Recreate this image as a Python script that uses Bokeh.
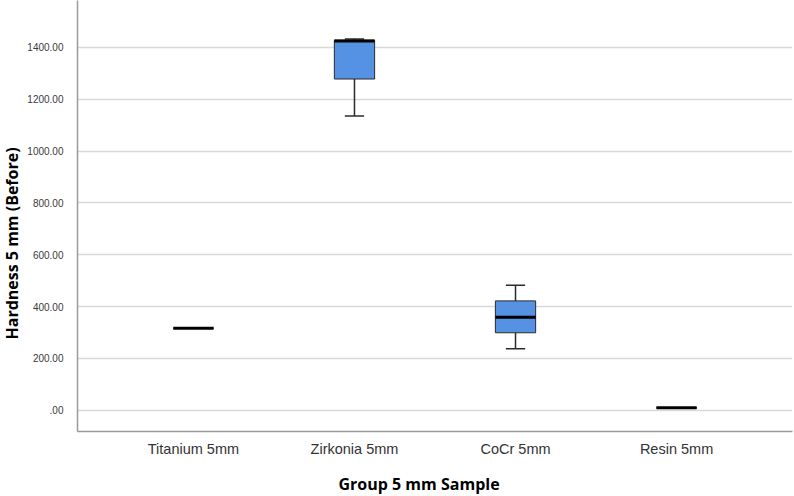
from bokeh.embed import file_html
from bokeh.models import ColumnDataSource, FactorRange, FixedTicker, Range1d, Title
from bokeh.plotting import figure
from bokeh.resources import INLINE
from bokeh.transform import dodge

# Five-number summaries of hardness (before), 5 mm samples
groups = ["Titanium 5mm", "Zirkonia 5mm", "CoCr 5mm", "Resin 5mm"]
lower = [316.5, 1135.0, 237.0, 9.3]
q1 = [316.5, 1278.0, 299.0, 9.3]
median = [316.5, 1425.0, 359.0, 9.3]
q3 = [316.5, 1428.0, 422.0, 9.3]
upper = [316.5, 1432.0, 482.5, 9.3]

y_ticks = [0, 200, 400, 600, 800, 1000, 1200, 1400]
y_tick_labels = [".00", "200.00", "400.00", "600.00", "800.00", "1000.00", "1200.00", "1400.00"]

BOX_FILL = "#5592E4"
BOX_W = 0.25
CAP_W = 0.12

src = ColumnDataSource(dict(groups=groups, lower=lower, q1=q1, median=median, q3=q3, upper=upper))

p = figure(
    width=794, height=496,
    x_range=FactorRange(*groups, range_padding=0.11),
    y_range=Range1d(-82, 1581),
    output_backend="svg", toolbar_location=None,
    min_border_left=77, min_border_right=2, min_border_top=0, min_border_bottom=65,
)
p.outline_line_color = None
p.background_fill_color = "white"
p.border_fill_color = "white"

# grid
p.xgrid.grid_line_color = None
p.ygrid.grid_line_color = "#d9d9d9"
p.ygrid.grid_line_width = 1.5

# y axis
p.yaxis.ticker = FixedTicker(ticks=y_ticks)
p.yaxis.major_label_overrides = {t: s for t, s in zip(y_ticks, y_tick_labels)}
p.yaxis.minor_tick_line_color = None
p.yaxis.major_tick_line_color = None
p.yaxis.major_label_standoff = 8
p.yaxis.major_label_text_font = "Liberation Sans"
p.yaxis.major_label_text_font_size = "10px"
p.yaxis.major_label_text_color = "#3a3a3a"
p.yaxis.axis_line_color = "#9a9a9a"
p.yaxis.axis_line_width = 1.5

# x axis (blank axis label only adds a little room before the title)
p.xaxis.major_tick_line_color = None
p.xaxis.minor_tick_line_color = None
p.xaxis.major_label_standoff = 3
p.xaxis.major_label_text_font = "Liberation Sans"
p.xaxis.major_label_text_font_size = "14.5px"
p.xaxis.major_label_text_color = "#333333"
p.xaxis.axis_line_color = "#9a9a9a"
p.xaxis.axis_line_width = 1.5
p.xaxis.axis_label = " "
p.xaxis.axis_label_text_font_size = "1px"
p.xaxis.axis_label_standoff = 6

# whiskers
p.segment(x0="groups", y0="q3", x1="groups", y1="upper", source=src,
          line_color="#2b2b2b", line_width=1.5)
p.segment(x0="groups", y0="q1", x1="groups", y1="lower", source=src,
          line_color="#2b2b2b", line_width=1.5)
p.segment(x0=dodge("groups", -CAP_W / 2, range=p.x_range), y0="upper",
          x1=dodge("groups", CAP_W / 2, range=p.x_range), y1="upper", source=src,
          line_color="#2b2b2b", line_width=1.5)
p.segment(x0=dodge("groups", -CAP_W / 2, range=p.x_range), y0="lower",
          x1=dodge("groups", CAP_W / 2, range=p.x_range), y1="lower", source=src,
          line_color="#2b2b2b", line_width=1.5)

# boxes
p.vbar(x="groups", width=BOX_W, bottom="q1", top="q3", source=src,
       fill_color=BOX_FILL, line_color="#2b2b2b", line_width=1)

# medians
p.segment(x0=dodge("groups", -BOX_W / 2, range=p.x_range), y0="median",
          x1=dodge("groups", BOX_W / 2, range=p.x_range), y1="median", source=src,
          line_color="black", line_width=3)

# axis titles, placed as panel titles so they can sit off-centre
p.add_layout(Title(text="Hardness 5 mm (Before)", align="left", offset=92,
                   vertical_align="top",
                   text_font="Open Sans", text_font_style="bold",
                   text_font_size="16px", text_color="black", standoff=0), "left")
p.add_layout(Title(text="Group 5 mm Sample", align="left", offset=261,
                   text_font="Open Sans", text_font_style="bold",
                   text_font_size="16px", text_color="black", standoff=3), "below")

open("out.html", "w").write(file_html(p, INLINE))
